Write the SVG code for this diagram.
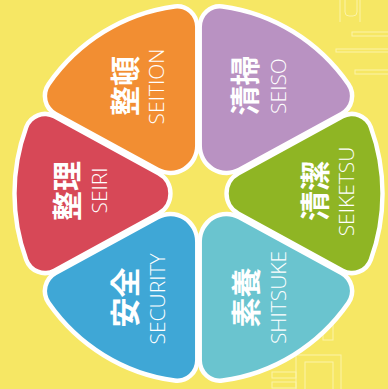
<svg xmlns="http://www.w3.org/2000/svg" xmlns:xlink="http://www.w3.org/1999/xlink" width="388" height="389" viewBox="0 0 388 389">
<style>
.petal{stroke:#ffffff;stroke-width:9;stroke-linejoin:round;paint-order:stroke fill}
.kj{font-family:"Noto Sans CJK JP","Noto Sans CJK SC",sans-serif;font-weight:700;font-size:30px;fill:#ffffff;text-anchor:middle;dominant-baseline:central}
.rm{font-family:"Open Sans","Liberation Sans",sans-serif;font-weight:300;font-size:21px;fill:#ffffff;text-anchor:middle}
.deco{fill:none;stroke:#FBF3A8;stroke-width:1}
</style>
<defs>
<path id="petalA" d="M 41.498,-18.101 L 146.979,-74.186 A 18 18 0 0 1 172.284,-64.614 A 184 184 0 0 1 172.284,64.614 A 18 18 0 0 1 146.979,74.186 L 41.498,18.101 A 20.5 20.5 0 0 1 41.498,-18.101 Z"/>
<path id="petalB" d="M 42.460,-21.429 L 142.896,-81.777 A 18 18 0 0 1 168.666,-73.542 A 184 184 0 0 1 168.666,73.542 A 18 18 0 0 1 142.896,81.777 L 42.460,21.429 A 25 25 0 0 1 42.460,-21.429 Z"/>
</defs>
<rect x="0" y="0" width="388" height="389" fill="#F6E764"/>
<g id="decoration">
<rect class="deco" x="345" y="-4" width="12" height="20" rx="4"/>
<line class="deco" x1="340" y1="0" x2="340" y2="22"/>
<line class="deco" x1="360" y1="0" x2="360" y2="22"/>
<rect class="deco" x="352" y="32" width="40" height="4"/>
<rect class="deco" x="336" y="49" width="56" height="3"/>
<rect class="deco" x="355" y="70" width="37" height="4"/>
<rect class="deco" x="323" y="322" width="10" height="18"/>
<rect class="deco" x="296" y="355" width="45" height="40"/>
<rect class="deco" x="305" y="362" width="28" height="30"/>
<rect class="deco" x="272" y="372" width="24" height="6"/>
<rect class="deco" x="272" y="382" width="24" height="6"/>
</g>
<g id="connectors"></g>
<g id="seiton">
<use xlink:href="#petalB" class="petal" fill="#F28E32" transform="translate(198.5,193.5) scale(0.988,1.013) rotate(-121)"/>
<text class="kj" transform="translate(122.5,86) rotate(-90)">整頓</text>
<text class="rm" transform="translate(163.5,86.5) rotate(-90)">SEITION</text>
</g>
<g id="seiso">
<use xlink:href="#petalB" class="petal" fill="#B992C2" transform="translate(198.5,193.5) scale(0.988,1.013) rotate(-59)"/>
<text class="kj" transform="translate(243,85.5) rotate(-90)">清掃</text>
<text class="rm" transform="translate(285.5,86) rotate(-90)">SEISO</text>
</g>
<g id="seiri">
<use xlink:href="#petalA" class="petal" fill="#D74857" transform="translate(198.5,193.5) scale(0.988,1.013) rotate(180)"/>
<text class="kj" transform="translate(64.5,191) rotate(-90)">整理</text>
<text class="rm" transform="translate(106.5,190.5) rotate(-90)">SEIRI</text>
</g>
<g id="seiketsu">
<use xlink:href="#petalA" class="petal" fill="#8FB524" transform="translate(198.5,193.5) scale(0.988,1.013)"/>
<text class="kj" transform="translate(313,191) rotate(-90)">清潔</text>
<text class="rm" transform="translate(353.5,191.5) rotate(-90)">SEIKETSU</text>
</g>
<g id="security">
<use xlink:href="#petalB" class="petal" fill="#3FA7D6" transform="translate(198.5,193.5) scale(0.988,1.013) rotate(121)"/>
<text class="kj" transform="translate(122.5,297.5) rotate(-90)">安全</text>
<text class="rm" transform="translate(164.5,299) rotate(-90)">SECURITY</text>
</g>
<g id="shitsuke">
<use xlink:href="#petalB" class="petal" fill="#6AC4CF" transform="translate(198.5,193.5) scale(0.988,1.013) rotate(59)"/>
<text class="kj" transform="translate(244,297.5) rotate(-90)">素養</text>
<text class="rm" transform="translate(286,297.5) rotate(-90)">SHITSUKE</text>
</g>
</svg>
